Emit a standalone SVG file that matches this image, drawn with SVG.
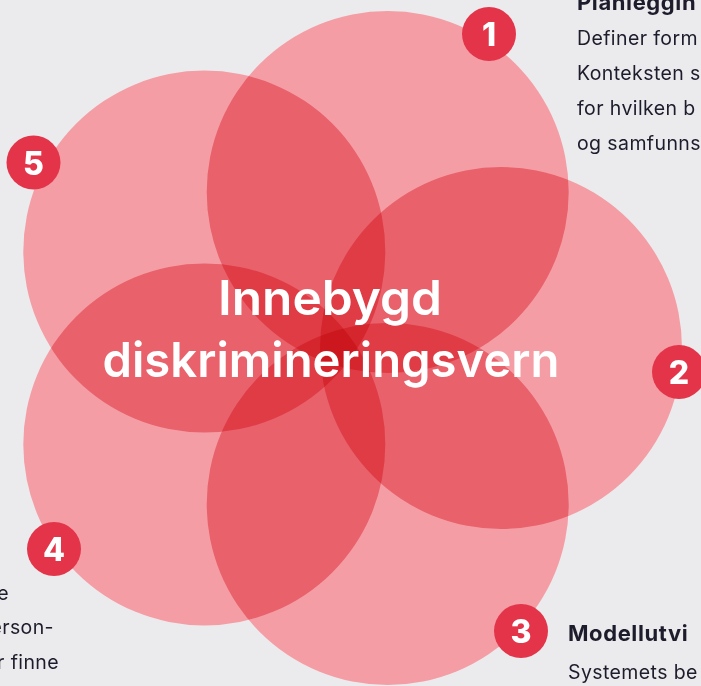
<svg xmlns="http://www.w3.org/2000/svg" width="701" height="686" viewBox="0 0 701 686">
  <style>
    .petal { fill: #f49da5; mix-blend-mode: multiply; }
    .badge { fill: #e3344a; }
    .num { fill: #ffffff; font-family: Inter, "Open Sans", sans-serif; font-weight: 800; font-size: 32px; text-anchor: middle; }
    .title { fill: #ffffff; font-family: Inter, "Open Sans", sans-serif; font-weight: 600; font-size: 48px; text-anchor: middle; }
    .body { fill: #1c1c2c; font-family: Inter, "Open Sans", sans-serif; font-size: 19.5px; letter-spacing: 0.4px; }
    .head { fill: #1c1c2c; font-family: Inter, "Open Sans", sans-serif; font-size: 22px; font-weight: 700; letter-spacing: 0.6px; }
  </style>
  <rect x="0" y="0" width="701" height="686" fill="#ebebed"/>
  <g id="petals" style="isolation:isolate">
    <circle id="circle-1" class="petal" cx="387.7" cy="192" r="181"/>
    <circle id="circle-2" class="petal" cx="501" cy="348" r="181"/>
    <circle id="circle-3" class="petal" cx="387.7" cy="504" r="181"/>
    <circle id="circle-4" class="petal" cx="204.3" cy="444.4" r="181"/>
    <circle id="circle-5" class="petal" cx="204.3" cy="251.6" r="181"/>
  </g>
  <g id="title">
    <text class="title" x="330" y="315" textLength="224" lengthAdjust="spacingAndGlyphs">Innebygd</text>
    <text class="title" x="331" y="377" textLength="457" lengthAdjust="spacingAndGlyphs">diskrimineringsvern</text>
  </g>
  <g id="node-1">
    <circle class="badge" cx="489" cy="34" r="27"/>
    <text class="num" x="489" y="46">1</text>
    <text class="head" x="577" y="10">Planleggin</text>
    <text class="body" x="577" y="45">Definer form</text>
    <text class="body" x="577" y="80">Konteksten s</text>
    <text class="body" x="577" y="115">for hvilken b</text>
    <text class="body" x="577" y="150">og samfunns</text>
  </g>
  <g id="node-2">
    <circle class="badge" cx="679" cy="372" r="27"/>
    <text class="num" x="679" y="384">2</text>
  </g>
  <g id="node-3">
    <circle class="badge" cx="521" cy="631" r="27"/>
    <text class="num" x="521" y="643">3</text>
    <text class="head" x="568" y="641">Modellutvi</text>
    <text class="body" x="568" y="679">Systemets be</text>
  </g>
  <g id="node-4">
    <circle class="badge" cx="54" cy="549" r="27"/>
    <text class="num" x="54" y="561">4</text>
    <text class="body" x="9" y="600" text-anchor="end">e</text>
    <text class="body" x="54" y="634" text-anchor="end">erson-</text>
    <text class="body" x="59" y="669" text-anchor="end">r finne</text>
  </g>
  <g id="node-5">
    <circle class="badge" cx="33.5" cy="162.5" r="27"/>
    <text class="num" x="33.5" y="174.5">5</text>
  </g>
  <g id="connectors"/>
</svg>
